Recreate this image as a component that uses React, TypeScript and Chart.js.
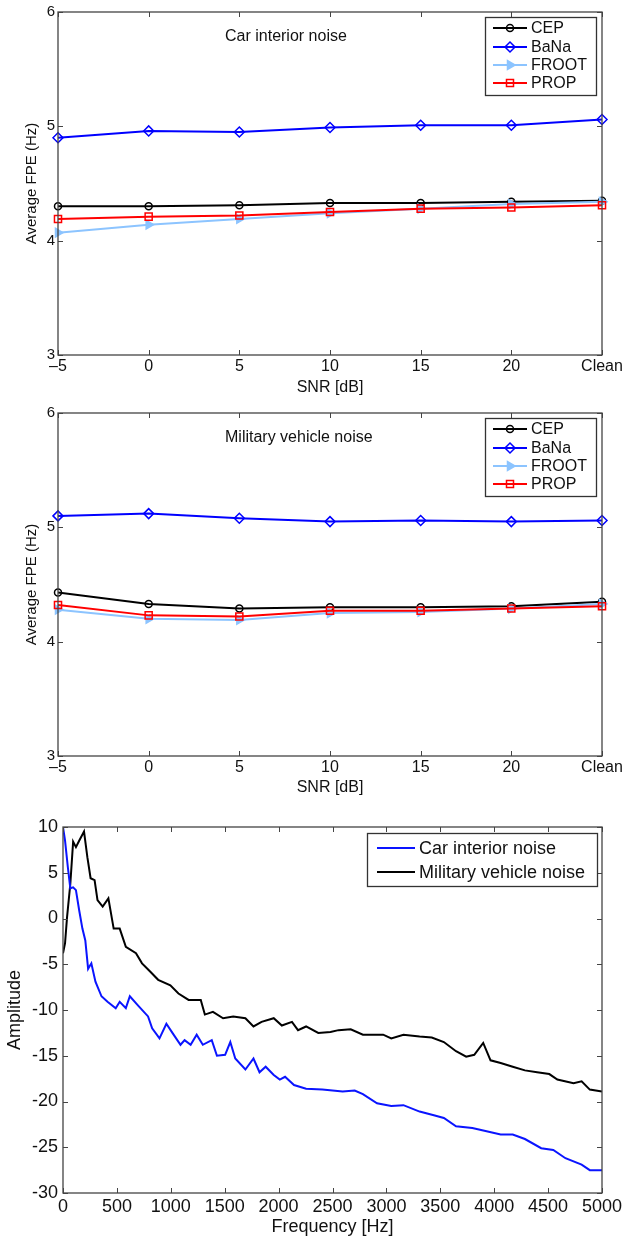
import React, { useEffect, useRef } from "react";
import { Chart, registerables } from "chart.js";

Chart.register(...registerables);
Chart.defaults.font.family = "'Liberation Sans', Arial, Helvetica, sans-serif";
Chart.defaults.color = "#111";

// ---------- Data: FPE charts ----------
const snrLabels = ["–5", "0", "5", "10", "15", "20", "Clean"];
const seriesNames = ["CEP", "BaNa", "FROOT", "PROP"];

const carCEP = [4.30, 4.30, 4.31, 4.33, 4.33, 4.34, 4.35];
const carBaNa = [4.90, 4.96, 4.95, 4.99, 5.01, 5.01, 5.06];
const carFROOT = [4.07, 4.14, 4.19, 4.24, 4.28, 4.32, 4.34];
const carPROP = [4.19, 4.21, 4.22, 4.25, 4.28, 4.29, 4.31];

const milCEP = [4.43, 4.33, 4.29, 4.30, 4.30, 4.31, 4.35];
const milBaNa = [5.10, 5.12, 5.08, 5.05, 5.06, 5.05, 5.06];
const milFROOT = [4.28, 4.20, 4.19, 4.25, 4.26, 4.29, 4.33];
const milPROP = [4.32, 4.23, 4.22, 4.27, 4.27, 4.29, 4.31];

// ---------- Data: spectra ----------
const carFreq = [0, 19, 45, 68, 94, 120, 150, 180, 207, 233, 263, 301, 357, 413, 489, 526, 583, 620, 695, 789, 827, 895, 959, 1015, 1090, 1128, 1184, 1240, 1297, 1380, 1428, 1504, 1552, 1598, 1692, 1767, 1823, 1880, 1955, 2011, 2060, 2143, 2255, 2406, 2594, 2706, 2782, 2913, 3045, 3158, 3308, 3440, 3533, 3646, 3797, 3909, 4060, 4172, 4285, 4436, 4548, 4661, 4811, 4887, 5000];
const carAmp = [10.0, 8.5, 5.6, 3.3, 3.4, 3.1, 0.9, -1.1, -2.4, -5.5, -4.9, -6.9, -8.5, -9.1, -9.8, -9.1, -9.8, -8.5, -9.5, -10.7, -12.0, -13.1, -11.5, -12.5, -13.8, -13.3, -13.8, -12.7, -13.8, -13.3, -15.0, -14.9, -13.5, -15.3, -16.5, -15.3, -16.8, -16.2, -17.1, -17.6, -17.3, -18.2, -18.6, -18.7, -18.9, -18.8, -19.2, -20.2, -20.5, -20.4, -21.1, -21.5, -21.8, -22.7, -22.9, -23.2, -23.6, -23.6, -24.1, -25.1, -25.3, -26.2, -26.9, -27.5, -27.5];

const milFreq = [0, 19, 38, 68, 94, 120, 150, 195, 226, 256, 293, 320, 368, 421, 470, 526, 583, 677, 733, 808, 883, 996, 1071, 1165, 1278, 1316, 1391, 1485, 1579, 1692, 1767, 1842, 1955, 2030, 2124, 2180, 2255, 2368, 2481, 2556, 2669, 2782, 2970, 3045, 3158, 3308, 3421, 3533, 3646, 3740, 3815, 3898, 3966, 4060, 4172, 4285, 4398, 4511, 4586, 4736, 4811, 4887, 5000];
const milAmp = [-3.8, -2.7, 0.2, 3.8, 8.4, 7.8, 8.5, 9.5, 6.7, 4.4, 4.2, 2.0, 1.3, 2.2, -1.1, -1.1, -3.1, -3.8, -4.9, -5.8, -6.7, -7.3, -8.2, -8.9, -8.9, -10.5, -10.2, -10.9, -10.7, -10.9, -11.8, -11.3, -10.9, -11.7, -11.3, -12.2, -11.8, -12.5, -12.4, -12.2, -12.1, -12.7, -12.7, -13.1, -12.7, -12.9, -13.0, -13.5, -14.5, -15.1, -14.9, -13.6, -15.5, -15.8, -16.2, -16.6, -16.8, -17.0, -17.6, -18.0, -17.8, -18.7, -18.9];

// ---------- Styles ----------
const FONT = "'Liberation Sans', Arial, Helvetica, sans-serif";
const seriesColors = ["#000000", "#0000ff", "#8cc4ff", "#ff0000"];
const seriesMarkers = ["circle", "diamond", "triR", "square"];

function drawMarker(ctx: CanvasRenderingContext2D, m: string, x: number, y: number, color: string) {
  ctx.save();
  ctx.strokeStyle = color;
  ctx.lineWidth = 1.5;
  ctx.beginPath();
  if (m === "circle") {
    ctx.arc(x, y, 3.5, 0, Math.PI * 2);
    ctx.stroke();
  } else if (m === "diamond") {
    ctx.moveTo(x, y - 5); ctx.lineTo(x + 5, y); ctx.lineTo(x, y + 5); ctx.lineTo(x - 5, y); ctx.closePath();
    ctx.stroke();
  } else if (m === "triR") {
    const r = 5;
    ctx.moveTo(x + r, y);
    ctx.lineTo(x + r * Math.cos(2 * Math.PI / 3), y + r * Math.sin(2 * Math.PI / 3));
    ctx.lineTo(x + r * Math.cos(4 * Math.PI / 3), y + r * Math.sin(4 * Math.PI / 3));
    ctx.closePath();
    ctx.fillStyle = color; ctx.fill(); ctx.stroke();
  } else if (m === "square") {
    ctx.rect(x - 3.5, y - 3.5, 7, 7);
    ctx.stroke();
  }
  ctx.restore();
}

function makeFramePlugin(tickLen: number) {
  return {
    id: "frame",
    afterDatasetsDraw(chart: any) {
      const { ctx, chartArea: a } = chart;
      const xs = chart.scales.x, ys = chart.scales.y;
      ctx.save();
      ctx.strokeStyle = "#444";
      ctx.lineWidth = 1;
      ctx.beginPath();
      xs.ticks.forEach((_t: any, i: number) => {
        const p = Math.round(xs.getPixelForTick(i)) + 0.5;
        ctx.moveTo(p, a.bottom); ctx.lineTo(p, a.bottom - tickLen);
        ctx.moveTo(p, a.top); ctx.lineTo(p, a.top + tickLen);
      });
      ys.ticks.forEach((_t: any, i: number) => {
        const p = Math.round(ys.getPixelForTick(i)) + 0.5;
        ctx.moveTo(a.left, p); ctx.lineTo(a.left + tickLen, p);
        ctx.moveTo(a.right, p); ctx.lineTo(a.right - tickLen, p);
      });
      ctx.stroke();
      ctx.lineWidth = 1.3;
      ctx.strokeRect(a.left, a.top, a.right - a.left, a.bottom - a.top);
      ctx.restore();
    },
  };
}

type LegendCfg = {
  labels: string[]; colors: string[]; markers: (string | null)[];
  right: number; top: number; width: number; height: number;
  rows: number[]; lineX0: number; lineX1: number; textX: number; fontSize: number;
};

function makeLegendPlugin(c: LegendCfg) {
  return {
    id: "mlegend",
    afterDraw(chart: any) {
      const { ctx, chartArea: a } = chart;
      const x = Math.round(a.right - c.right - c.width);
      const y = Math.round(a.top + c.top);
      ctx.save();
      ctx.fillStyle = "#fff";
      ctx.fillRect(x, y, c.width, c.height);
      ctx.strokeStyle = "#333";
      ctx.lineWidth = 1.3;
      ctx.strokeRect(x + 0.5, y + 0.5, c.width, c.height);
      c.labels.forEach((lab, i) => {
        const yy = y + c.rows[i];
        ctx.strokeStyle = c.colors[i];
        ctx.lineWidth = 2;
        ctx.beginPath();
        ctx.moveTo(x + c.lineX0, yy); ctx.lineTo(x + c.lineX1, yy);
        ctx.stroke();
        const m = c.markers[i];
        if (m) drawMarker(ctx, m, x + (c.lineX0 + c.lineX1) / 2, yy, c.colors[i]);
        ctx.fillStyle = "#111";
        ctx.font = `${c.fontSize}px ${FONT}`;
        ctx.textAlign = "left";
        ctx.textBaseline = "middle";
        ctx.fillText(lab, x + c.textX, yy + 1);
      });
      ctx.restore();
    },
  };
}

function makeTextPlugin(text: string, dx: number, dy: number, size: number) {
  return {
    id: "note",
    afterDraw(chart: any) {
      const { ctx, chartArea: a } = chart;
      ctx.save();
      ctx.fillStyle = "#111";
      ctx.font = `${size}px ${FONT}`;
      ctx.textAlign = "left";
      ctx.textBaseline = "middle";
      ctx.fillText(text, a.left + dx, a.top + dy);
      ctx.restore();
    },
  };
}

function fpeConfig(values: number[][], note: string, padTop: number, xh: number, titlePad: number) {
  const pointStyles = ["circle", "rectRot", "triangle", "rect"];
  const radii = [3.5, 5, 5, 5];
  const orders = [4, 3, 2, 1];
  return {
    type: "line",
    data: {
      labels: snrLabels,
      datasets: values.map((v, i) => ({
        label: seriesNames[i],
        data: v,
        borderColor: seriesColors[i],
        borderWidth: 2,
        pointStyle: pointStyles[i],
        pointRadius: radii[i],
        pointRotation: i === 2 ? 90 : 0,
        pointBorderColor: seriesColors[i],
        pointBackgroundColor: i === 2 ? seriesColors[i] : "rgba(0,0,0,0)",
        pointBorderWidth: 1.5,
        tension: 0,
        order: orders[i],
      })),
    },
    options: {
      responsive: false,
      animation: false,
      layout: { padding: { top: padTop, right: 32, left: 0, bottom: 0 } },
      plugins: { legend: { display: false }, tooltip: { enabled: false } },
      scales: {
        x: {
          type: "category",
          offset: false,
          grid: { display: false, drawTicks: false },
          border: { display: false },
          ticks: { font: { size: 16 }, padding: 2, maxRotation: 0, autoSkip: false, color: "#111" },
          title: { display: true, text: "SNR [dB]", font: { size: 16 }, padding: { top: 0, bottom: titlePad }, color: "#111" },
          afterFit: (s: any) => { s.height = xh; },
        },
        y: {
          min: 3, max: 6,
          grid: { display: false, drawTicks: false },
          border: { display: false },
          ticks: { stepSize: 1, font: { size: 15 }, padding: 3, color: "#111", callback: (v: any) => String(v) },
          title: { display: true, text: "Average FPE (Hz)", font: { size: 15 }, padding: { top: 23, bottom: 0 }, color: "#111" },
          afterFit: (s: any) => { s.width = 58; },
        },
      },
    },
    plugins: [
      makeFramePlugin(5),
      makeTextPlugin(note, 167, 25, 16),
      makeLegendPlugin({
        labels: seriesNames, colors: seriesColors, markers: seriesMarkers,
        right: 6, top: 5, width: 111, height: 78,
        rows: [11, 30, 48, 66], lineX0: 8, lineX1: 42, textX: 46, fontSize: 16,
      }),
    ],
  };
}

function spectrumConfig() {
  const names = ["Car interior noise", "Military vehicle noise"];
  const colors = ["#0a14ff", "#000000"];
  const freqs = [carFreq, milFreq];
  const amps = [carAmp, milAmp];
  return {
    type: "line",
    data: {
      datasets: names.map((n, i) => ({
        label: n,
        data: freqs[i].map((f, j) => ({ x: f, y: amps[i][j] })),
        borderColor: colors[i],
        borderWidth: 2,
        pointRadius: 0,
        tension: 0,
      })),
    },
    options: {
      responsive: false,
      animation: false,
      layout: { padding: { top: 27, right: 32, left: 0, bottom: 0 } },
      plugins: { legend: { display: false }, tooltip: { enabled: false } },
      scales: {
        x: {
          type: "linear",
          min: 0, max: 5000,
          grid: { display: false, drawTicks: false },
          border: { display: false },
          ticks: { stepSize: 500, font: { size: 18 }, padding: 3, maxRotation: 0, autoSkip: false, color: "#111", callback: (v: any) => String(v) },
          title: { display: true, text: "Frequency [Hz]", font: { size: 18 }, padding: { top: 0, bottom: 0 }, color: "#111" },
          afterFit: (s: any) => { s.height = 45; },
        },
        y: {
          min: -30, max: 10,
          grid: { display: false, drawTicks: false },
          border: { display: false },
          ticks: { stepSize: 5, font: { size: 18 }, padding: 5, color: "#111", callback: (v: any) => String(v) },
          title: { display: true, text: "Amplitude", font: { size: 18 }, padding: { top: 4, bottom: 0 }, color: "#111" },
          afterFit: (s: any) => { s.width = 63; },
        },
      },
    },
    plugins: [
      makeFramePlugin(5),
      makeLegendPlugin({
        labels: names, colors, markers: [null, null],
        right: 5, top: 6, width: 230, height: 53,
        rows: [15, 39], lineX0: 10, lineX1: 48, textX: 52, fontSize: 18,
      }),
    ],
  };
}

function ChartBox({ top, height, make }: { top: number; height: number; make: () => any }) {
  const ref = useRef<HTMLCanvasElement>(null);
  useEffect(() => {
    const chart = new Chart(ref.current as HTMLCanvasElement, make() as any);
    return () => chart.destroy();
  }, []);
  return (
    <div style={{ position: "absolute", left: 0, top, width: 634, height }}>
      <canvas ref={ref} width={634} height={height} style={{ display: "block", width: 634, height }} />
    </div>
  );
}

export default function App() {
  return (
    <div style={{ position: "absolute", left: 0, top: 0, width: 634, height: 1238, background: "#fff" }}>
      <ChartBox top={0} height={400} make={() => fpeConfig([carCEP, carBaNa, carFROOT, carPROP], "Car interior noise", 11, 45, 3)} />
      <ChartBox top={400} height={400} make={() => fpeConfig([milCEP, milBaNa, milFROOT, milPROP], "Military vehicle noise", 13, 44, 3)} />
      <ChartBox top={800} height={438} make={() => spectrumConfig()} />
    </div>
  );
}
